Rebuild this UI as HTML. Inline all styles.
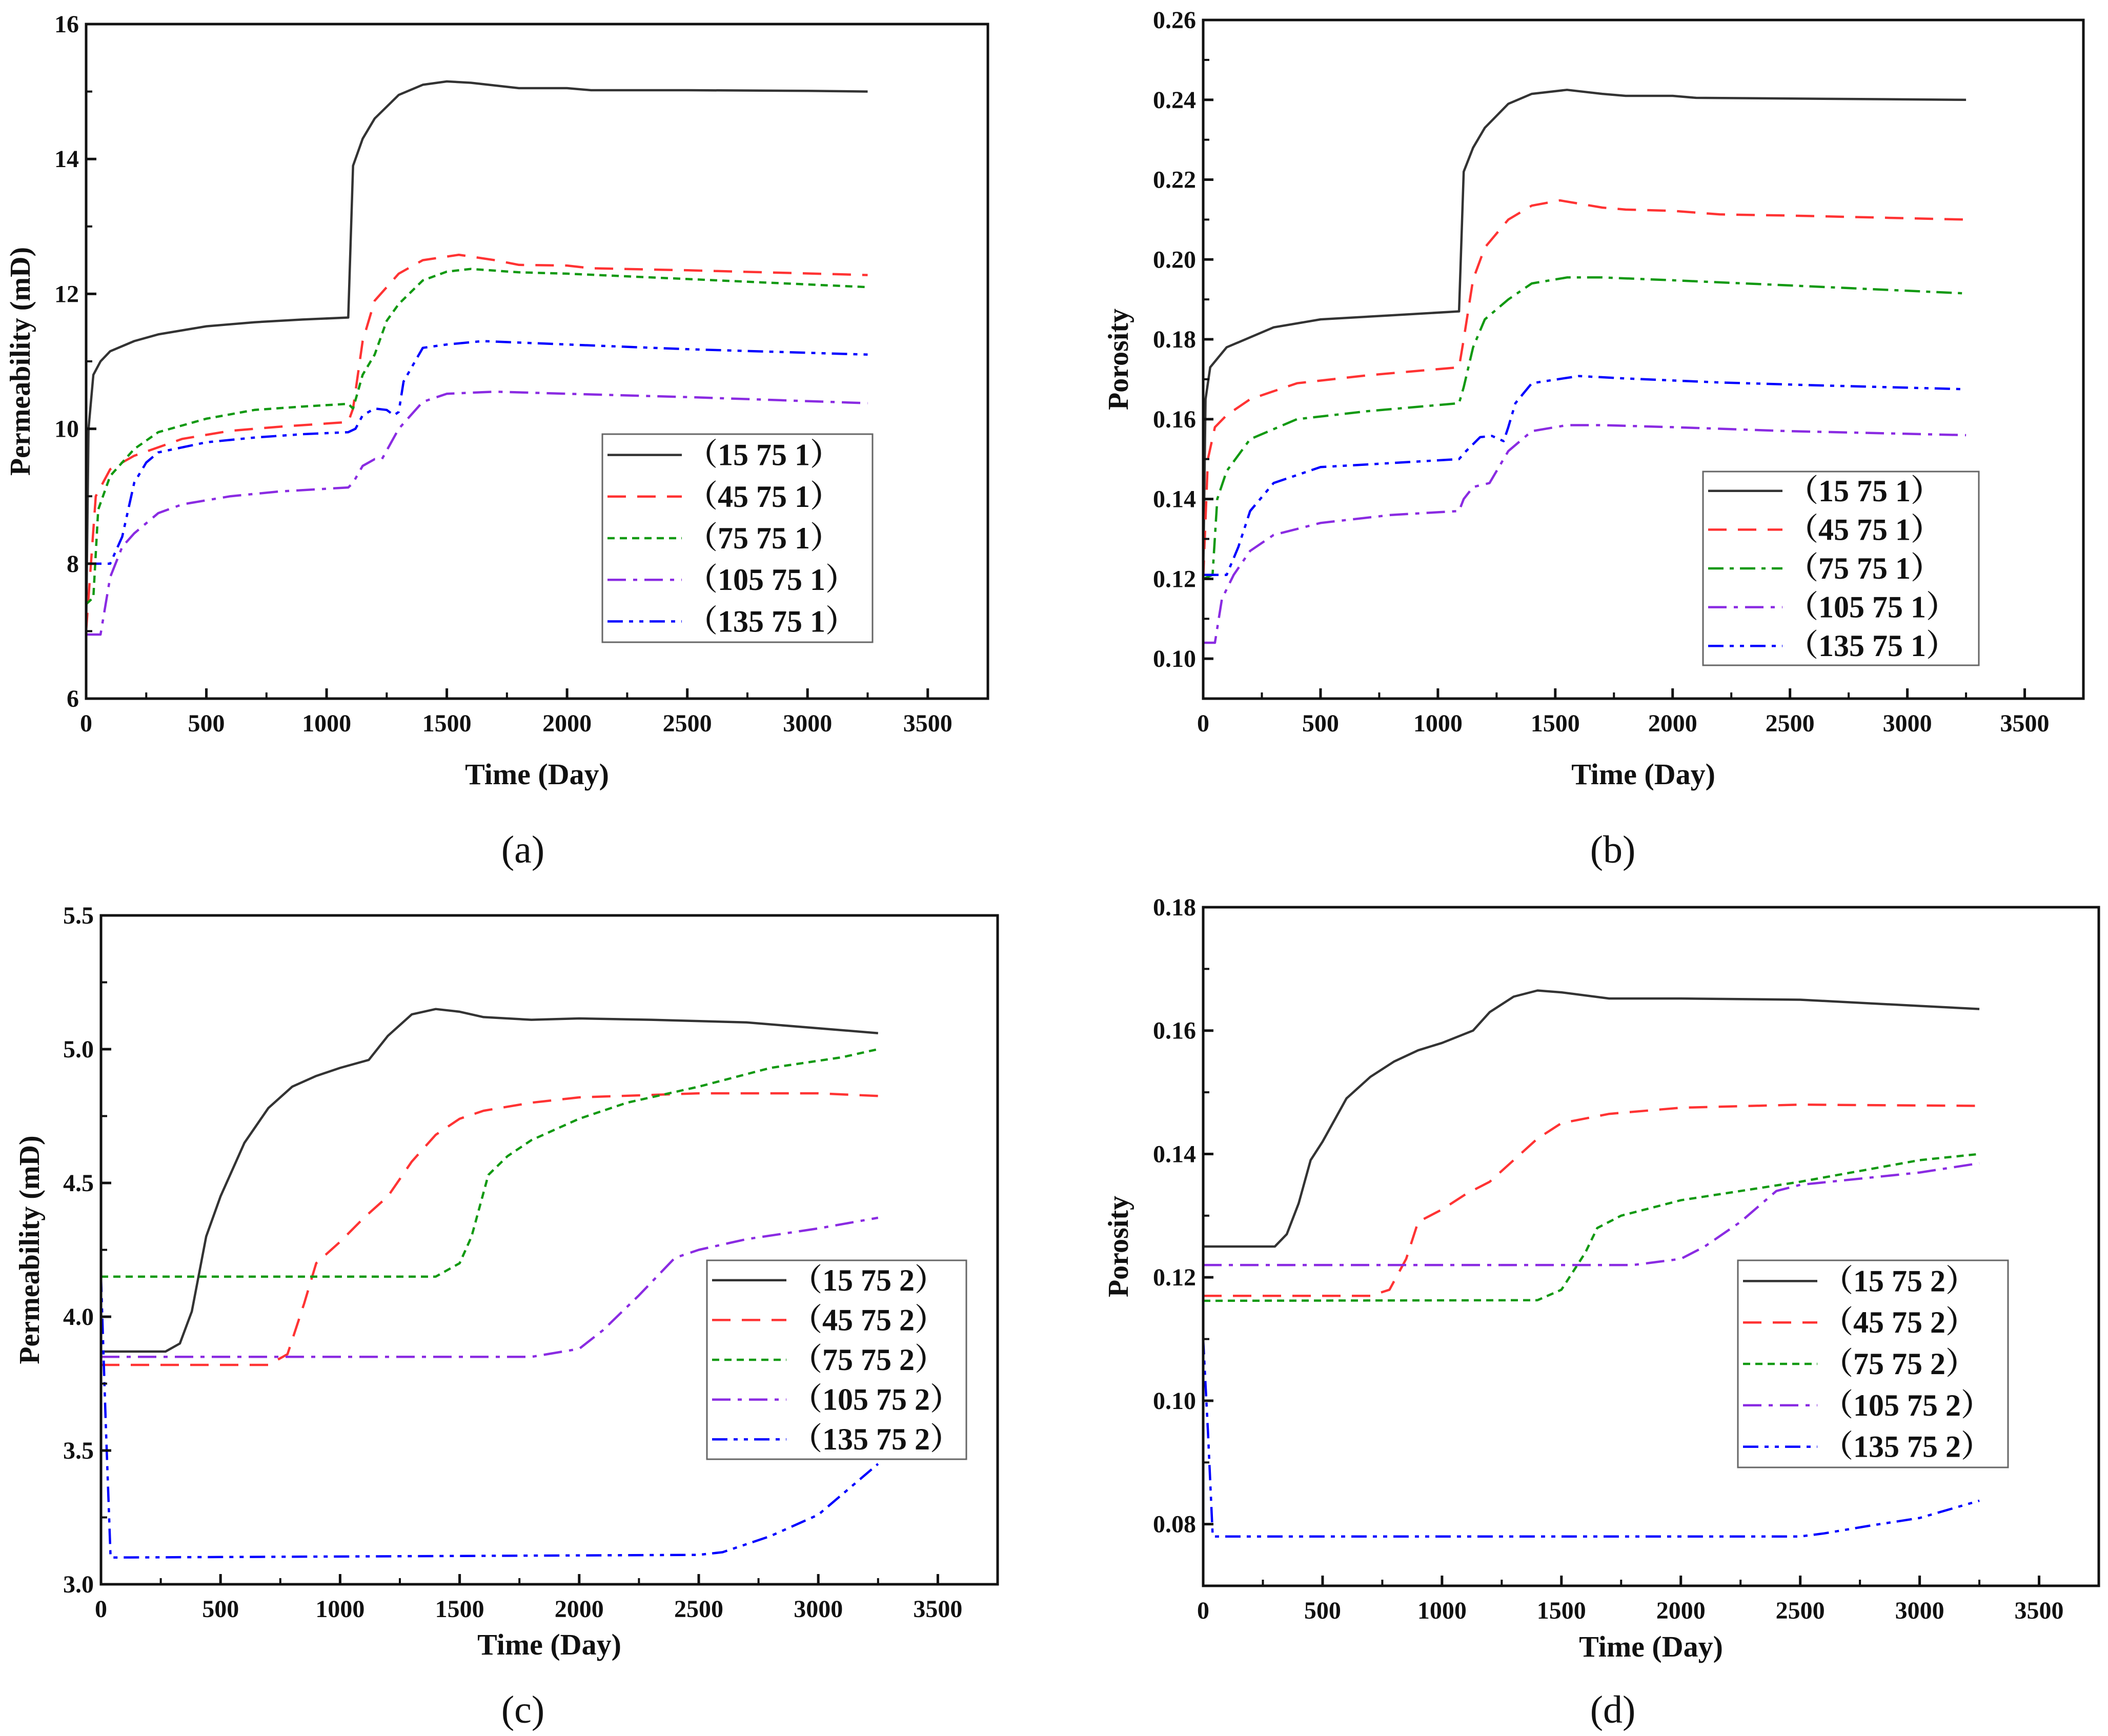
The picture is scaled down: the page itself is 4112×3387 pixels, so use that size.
<!DOCTYPE html>
<html><head><meta charset="utf-8"><style>
html,body{margin:0;padding:0;background:#fff}
svg{display:block}
text{font-family:"Liberation Serif",serif}
</style></head><body>
<svg id="fig" xmlns="http://www.w3.org/2000/svg" width="4112" height="3387" viewBox="0 0 4112 3387"></svg>
<script>
// ---- data ----
const seriesNames = ["15 75","45 75","75 75","105 75","135 75"];
const xTicks = [0,500,1000,1500,2000,2500,3000,3500];
const aTicks = [6,8,10,12,14,16];
const bTicks = [0.10,0.12,0.14,0.16,0.18,0.20,0.22,0.24,0.26];
const cTicks = [3.0,3.5,4.0,4.5,5.0,5.5];
const dTicks = [0.08,0.10,0.12,0.14,0.16,0.18];

const a15=[[0,7.0],[10,10],[30,10.8],[60,11.0],[100,11.15],[200,11.3],[300,11.4],[500,11.52],[700,11.58],[900,11.62],[1090,11.65],[1110,13.9],[1150,14.3],[1200,14.6],[1300,14.95],[1400,15.1],[1500,15.15],[1600,15.13],[1800,15.05],[2000,15.05],[2100,15.02],[2500,15.02],[3000,15.01],[3250,15.0]];
const a45=[[0,7.0],[20,8.0],[40,9.0],[100,9.4],[200,9.6],[400,9.85],[600,9.97],[800,10.03],[1090,10.1],[1110,10.3],[1150,11.3],[1200,11.9],[1300,12.3],[1400,12.5],[1550,12.58],[1700,12.5],[1800,12.43],[2000,12.42],[2100,12.38],[2500,12.35],[3250,12.28]];
const a75=[[0,7.4],[30,7.5],[50,8.8],[100,9.3],[200,9.7],[300,9.95],[500,10.15],[700,10.28],[900,10.33],[1090,10.37],[1110,10.3],[1150,10.8],[1200,11.1],[1250,11.6],[1300,11.85],[1400,12.2],[1500,12.33],[1600,12.37],[1800,12.32],[2000,12.3],[2500,12.22],[3250,12.1]];
const a105=[[0,6.95],[60,6.95],[100,7.8],[150,8.25],[200,8.45],[300,8.75],[400,8.88],[600,9.0],[800,9.07],[1090,9.13],[1110,9.2],[1150,9.45],[1200,9.55],[1230,9.55],[1300,10.0],[1400,10.4],[1500,10.52],[1700,10.55],[2000,10.52],[2500,10.47],[3250,10.38]];
const a135=[[0,8.0],[100,8.0],[150,8.4],[200,9.2],[250,9.5],[300,9.65],[500,9.8],[700,9.87],[900,9.92],[1090,9.95],[1120,10.0],[1150,10.2],[1200,10.3],[1250,10.28],[1280,10.2],[1300,10.25],[1320,10.7],[1400,11.2],[1500,11.25],[1650,11.3],[2000,11.25],[2500,11.18],[3250,11.1]];

const b15=[[0,0.12],[10,0.165],[30,0.173],[100,0.178],[300,0.183],[500,0.185],[800,0.186],[1090,0.187],[1110,0.222],[1150,0.228],[1200,0.233],[1300,0.239],[1400,0.2415],[1550,0.2425],[1700,0.2415],[1800,0.241],[2000,0.241],[2100,0.2405],[3250,0.240]];
const b45=[[0,0.12],[20,0.15],[50,0.158],[100,0.161],[200,0.165],[400,0.169],[700,0.171],[1090,0.173],[1110,0.18],[1150,0.195],[1200,0.203],[1300,0.21],[1400,0.2135],[1520,0.2148],[1700,0.213],[1800,0.2125],[2000,0.2122],[2200,0.2113],[2500,0.211],[3250,0.210]];
const b75=[[0,0.12],[40,0.121],[60,0.14],[100,0.147],[200,0.155],[400,0.16],[700,0.162],[1090,0.164],[1110,0.168],[1150,0.178],[1200,0.185],[1300,0.19],[1400,0.194],[1550,0.1955],[1700,0.1955],[2000,0.1948],[2500,0.1935],[3250,0.1915]];
const b105=[[0,0.104],[50,0.104],[80,0.115],[130,0.121],[200,0.127],[300,0.131],[500,0.134],[800,0.136],[1090,0.137],[1110,0.14],[1150,0.143],[1220,0.144],[1300,0.152],[1400,0.157],[1550,0.1585],[1700,0.1585],[2000,0.158],[2500,0.157],[3250,0.156]];
const b135=[[0,0.121],[100,0.121],[150,0.128],[200,0.137],[300,0.144],[500,0.148],[800,0.149],[1090,0.15],[1120,0.152],[1180,0.1555],[1230,0.1558],[1280,0.1545],[1300,0.158],[1330,0.164],[1400,0.169],[1600,0.1708],[1800,0.1702],[2200,0.1692],[2600,0.1685],[3250,0.1675]];

const c15=[[0,3.87],[270,3.87],[330,3.9],[380,4.02],[440,4.3],[500,4.45],[600,4.65],[700,4.78],[800,4.86],[900,4.9],[1000,4.93],[1120,4.96],[1200,5.05],[1300,5.13],[1400,5.15],[1500,5.14],[1600,5.12],[1800,5.11],[2000,5.115],[2300,5.11],[2700,5.1],[3250,5.06]];
const c45=[[0,3.82],[700,3.82],[780,3.86],[850,4.05],[900,4.2],[1000,4.28],[1100,4.37],[1200,4.45],[1300,4.58],[1400,4.68],[1500,4.74],[1600,4.77],[1800,4.8],[2000,4.82],[2500,4.835],[3000,4.835],[3250,4.825]];
const c75=[[0,4.15],[1400,4.15],[1500,4.2],[1550,4.3],[1620,4.53],[1700,4.6],[1800,4.66],[2000,4.74],[2200,4.8],[2500,4.86],[2800,4.93],[3100,4.97],[3250,5.0]];
const c105=[[0,3.85],[1800,3.85],[2000,3.88],[2100,3.95],[2250,4.08],[2400,4.22],[2500,4.25],[2700,4.29],[3000,4.33],[3250,4.37]];
const c135=[[0,4.15],[20,3.6],[40,3.1],[2500,3.11],[2600,3.12],[2800,3.18],[3000,3.26],[3250,3.45]];

const d15=[[0,0.125],[300,0.125],[350,0.127],[400,0.132],[450,0.139],[500,0.142],[600,0.149],[700,0.1525],[800,0.155],[900,0.1568],[1000,0.158],[1130,0.16],[1200,0.163],[1300,0.1655],[1400,0.1665],[1500,0.1662],[1700,0.1652],[2000,0.1652],[2500,0.165],[3000,0.164],[3250,0.1635]];
const d45=[[0,0.117],[700,0.117],[780,0.118],[850,0.123],[900,0.129],[1000,0.131],[1100,0.1335],[1200,0.1355],[1300,0.139],[1400,0.1425],[1500,0.145],[1700,0.1465],[2000,0.1475],[2500,0.148],[3250,0.1478]];
const d75=[[0,0.1162],[1400,0.1163],[1500,0.118],[1600,0.124],[1650,0.128],[1750,0.13],[2000,0.1325],[2500,0.1355],[3000,0.139],[3250,0.14]];
const d105=[[0,0.122],[1800,0.122],[2000,0.123],[2100,0.125],[2250,0.129],[2400,0.134],[2500,0.135],[3000,0.137],[3250,0.1385]];
const d135=[[0,0.11],[20,0.095],[40,0.078],[2500,0.078],[2600,0.0785],[2800,0.0798],[3000,0.081],[3250,0.0838]];

// ---- rendering ----
const NS="http://www.w3.org/2000/svg";
const svg=document.getElementById('fig');
function mk(tag,attrs,parent,txt){const e=document.createElementNS(NS,tag);for(const k in attrs)e.setAttribute(k,attrs[k]);if(txt!==undefined)e.textContent=txt;(parent||svg).appendChild(e);return e;}
const colors=["#333333","#ff3333","#119911","#8a2be2","#0000ff"];
const dashesDefault=["", "36 22", "14 10", "36 14 8 14", "30 12 8 12 8 12"];

function panel(o){
  const g=mk('g',{});
  
  
  const X=v=>o.x0+(v-0)/(3750)*(o.x1-o.x0);
  const Y=v=>o.y1-(v-o.ymin)/(o.ymax-o.ymin)*(o.y1-o.y0);
  o.series.forEach((s,i)=>{
    const d=s.map((p,j)=>(j?'L':'M')+X(p[0]).toFixed(1)+' '+Y(p[1]).toFixed(1)).join(' ');
    const p=mk('path',{d:d,fill:'none',stroke:colors[i],'stroke-width':4.5,'stroke-dasharray':o.dashes[i],'stroke-linejoin':'round'},g);
    
    
  });
  const fr=mk('rect',{x:o.x0,y:o.y0,width:o.x1-o.x0,height:o.y1-o.y0,fill:'none',stroke:'#111','stroke-width':5},g);
  
  
  xTicks.forEach((t,i)=>{
    const x=X(t);
    mk('line',{x1:x,x2:x,y1:o.y1,y2:o.y1-20,stroke:'#111','stroke-width':5},g);
    const mx=X(t+250);
    if(t+250<3750) mk('line',{x1:mx,x2:mx,y1:o.y1,y2:o.y1-12,stroke:'#111','stroke-width':4},g);
    const tl=mk('text',{x:x,y:o.y1+64,'font-size':48,'font-weight':'bold','text-anchor':'middle',fill:'#111'},g,String(t));
    
    
  });
  o.yTicks.forEach((t,i)=>{
    const y=Y(t);
    mk('line',{x1:o.x0,x2:o.x0+20,y1:y,y2:y,stroke:'#111','stroke-width':5},g);
    const my=Y(t+o.minor);
    if(t+o.minor<o.ymax-1e-9) mk('line',{x1:o.x0,x2:o.x0+12,y1:my,y2:my,stroke:'#111','stroke-width':4},g);
    if(i===0){const my2=Y(t-o.minor); if(t-o.minor>o.ymin+1e-9) mk('line',{x1:o.x0,x2:o.x0+12,y1:my2,y2:my2,stroke:'#111','stroke-width':4},g);}
    const tl=mk('text',{x:o.x0-14,y:y+16,'font-size':48,'font-weight':'bold','text-anchor':'end',fill:'#111'},g,t.toFixed(o.dec));
    
    
  });
  const xt=mk('text',{x:(o.x0+o.x1)/2,y:o.xty,'font-size':58,'font-weight':'bold','text-anchor':'middle',fill:'#111'},g,'Time (Day)');
  
  
  const yc=(o.y0+o.y1)/2;
  const yt=mk('text',{x:o.ytx,y:yc,'font-size':56,'font-weight':'bold','text-anchor':'middle',fill:'#111',transform:`rotate(-90 ${o.ytx} ${yc})`},g,o.ytitle);
  
  
  const pl=mk('text',{x:o.plx,y:o.ply+26,'font-size':76,'text-anchor':'middle',fill:'#111'},g,'('+o.id+')');
  
  
  const L=o.leg;
  const lg=mk('g',{},g);
  
  
  mk('rect',{x:L[0],y:L[1],width:L[2]-L[0],height:L[3]-L[1],fill:'#fff',stroke:'#666','stroke-width':3},lg);
  const rh=(L[3]-L[1])/5;
  seriesNames.forEach((n,i)=>{
    const cy=L[1]+rh*(i+0.5);
    const e=mk('g',{},lg);
    
    
    mk('line',{x1:L[0]+10,x2:L[0]+155,y1:cy,y2:cy,stroke:colors[i],'stroke-width':4.5,'stroke-dasharray':o.dashes[i]},e);
    mk('text',{x:L[0]+165,y:cy+20,'font-size':60,'font-weight':'bold',fill:'#111',style:'font-family:"Liberation Serif","Noto Serif CJK SC",serif'},e,'（'+n+' '+o.suffix+'）');
  });
}
const dashB=["", "36 22", "30 12 8 12", "36 14 8 14", "30 12 8 12 8 12"];
panel({id:'a',suffix:'1',x0:168,x1:1927,y0:47,y1:1363,ymin:6,ymax:16,yTicks:aTicks,minor:1,dec:0,series:[a15,a45,a75,a105,a135],dashes:dashesDefault,ytitle:'Permeability (mD)',ytx:58,xty:1530,plx:1020,ply:1657,leg:[1175,847,1702,1253]});
panel({id:'b',suffix:'1',x0:2347,x1:4064,y0:39,y1:1363,ymin:0.09,ymax:0.26,yTicks:bTicks,minor:0.01,dec:2,series:[b15,b45,b75,b105,b135],dashes:dashB,ytitle:'Porosity',ytx:2200,xty:1530,plx:3146,ply:1657,leg:[3322,920,3860,1298]});
panel({id:'c',suffix:'2',x0:197,x1:1946,y0:1786,y1:3091,ymin:3.0,ymax:5.5,yTicks:cTicks,minor:0.25,dec:1,series:[c15,c45,c75,c105,c135],dashes:dashesDefault,ytitle:'Permeability (mD)',ytx:76,xty:3228,plx:1020,ply:3335,leg:[1379,2459,1885,2847]});
panel({id:'d',suffix:'2',x0:2347,x1:4094,y0:1770,y1:3094,ymin:0.07,ymax:0.18,yTicks:dTicks,minor:0.01,dec:2,series:[d15,d45,d75,d105,d135],dashes:dashesDefault,ytitle:'Porosity',ytx:2200,xty:3232,plx:3146,ply:3335,leg:[3390,2459,3917,2863]});
</script>
</body></html>
